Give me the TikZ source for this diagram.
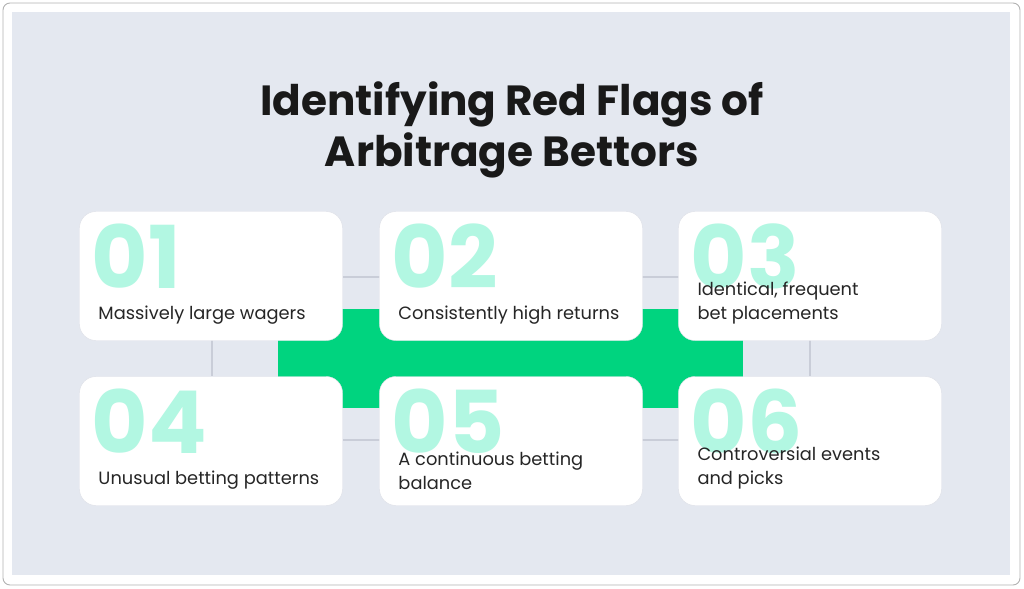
\documentclass[tikz,border=0pt]{standalone}
\usepackage{fontspec}
\setmainfont{Poppins}
\usepackage{xcolor}
\usetikzlibrary{positioning}
\definecolor{bgpanel}{HTML}{E4E8F0}
\definecolor{flaggreen}{HTML}{00D47F}
\definecolor{mint}{HTML}{B2F7E2}
\definecolor{linegray}{HTML}{C9CDD8}
\tikzset{
  card/.style={draw=linegray!60, fill=white, rounded corners=14pt, minimum width=7.89cm, minimum height=3.87cm, inner sep=0pt},
  bignum/.style={text=mint, font=\fontsize{74}{74}\selectfont\bfseries, anchor=north west, inner sep=0pt},
  cardtext/.style={text=black!85, font=\fontsize{15.2}{20.5}\selectfont, anchor=south west, align=left, inner sep=0pt},
  link/.style={linegray, line width=1.2pt}
}
\begin{document}
\begin{tikzpicture}[x=0.03cm, y=-0.03cm]
    % Frame and panel
    \useasboundingbox (0,0) rectangle (1024,589);
    \draw[black!30, fill=white, rounded corners=6pt, line width=0.8pt] (3,3) rectangle (1020,585);
    \fill[bgpanel] (12,12) rectangle (1010,575);

    % Title
    \node[font=\fontsize{36}{44}\selectfont\bfseries, align=center, text=black!90] (title) at (512,130)
        {Identifying Red Flags of\\Arbitrage Bettors};

    % Connectors behind cards
    \coordinate (l1a) at (343,277); \coordinate (l1b) at (380,277);
    \coordinate (l2a) at (642,277); \coordinate (l2b) at (679,277);
    \coordinate (l3a) at (343,440); \coordinate (l3b) at (380,440);
    \coordinate (l4a) at (642,440); \coordinate (l4b) at (679,440);
    \coordinate (v1a) at (212,340); \coordinate (v1b) at (212,376);
    \coordinate (v2a) at (810,340); \coordinate (v2b) at (810,376);
    \draw[link] (l1a) -- (l1b);
    \draw[link] (l2a) -- (l2b);
    \draw[link] (l3a) -- (l3b);
    \draw[link] (l4a) -- (l4b);
    \draw[link] (v1a) -- (v1b);
    \draw[link] (v2a) -- (v2b);

    % Green band
    \fill[flaggreen] (278,309) rectangle (743,408);

    % Cards
    \foreach \name/\cx/\cy/\num in {c1/211/276/01, c2/511/276/02, c3/810/276/03,
                                    c4/211/441/04, c5/511/441/05, c6/810/441/06} {
        \node[card] (\name) at (\cx,\cy) {};
        \node[bignum] (\name num) at ([xshift=0.36cm, yshift=-0.36cm]\name.north west) {\num};
    }

    % Card texts
    \node[cardtext] (t1) at ([xshift=0.57cm, yshift=0.48cm]c1.south west) {Massively large wagers};
    \node[cardtext] (t2) at ([xshift=0.57cm, yshift=0.48cm]c2.south west) {Consistently high returns};
    \node[cardtext] (t3) at ([xshift=0.57cm, yshift=0.48cm]c3.south west) {Identical, frequent\\bet placements};
    \node[cardtext] (t4) at ([xshift=0.57cm, yshift=0.48cm]c4.south west) {Unusual betting patterns};
    \node[cardtext] (t5) at ([xshift=0.57cm, yshift=0.48cm]c5.south west) {A continuous betting\\balance};
    \node[cardtext] (t6) at ([xshift=0.57cm, yshift=0.48cm]c6.south west) {Controversial events\\and picks};
\end{tikzpicture}
\end{document}
